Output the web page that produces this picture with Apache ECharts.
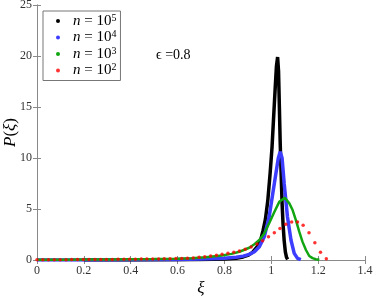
<!DOCTYPE html>
<html>
<head>
<meta charset="utf-8">
<script src="https://cdn.jsdelivr.net/npm/echarts@6/dist/echarts.min.js"></script>
<style>html,body{margin:0;padding:0;background:#fff}#c{width:374px;height:298px}</style>
</head>
<body>
<div id="c"></div>
<script>
// ---- data ----
const seriesNames = ['n1e5', 'n1e4', 'n1e3', 'n1e2'];
const exponents = ['5', '4', '3', '2'];
const xTickLabels = ['0', '0.2', '0.4', '0.6', '0.8', '1', '1.2', '1.4'];
const yTickLabels = ['0', '5', '10', '15', '20', '25'];

const xiBlack = [0.20, 0.40, 0.60, 0.70, 0.80, 0.85, 0.88, 0.90, 0.92, 0.94, 0.955, 0.965, 0.975, 0.985, 0.995, 1.003, 1.010, 1.017, 1.022, 1.027, 1.031, 1.035, 1.038, 1.042, 1.046, 1.050, 1.055, 1.060, 1.065, 1.070];
const pBlack  = [0.00, 0.01, 0.03, 0.05, 0.10, 0.18, 0.30, 0.45, 0.75, 1.30, 2.00, 2.90, 4.00, 5.80, 8.50, 11.0, 14.0, 17.0, 19.0, 19.9, 18.5, 14.5, 11.5, 8.5, 5.6, 3.6, 1.9, 0.8, 0.25, 0.05];

const xiBlue = [0.00, 0.20, 0.40, 0.60, 0.70, 0.80, 0.85, 0.88, 0.906, 0.928, 0.949, 0.970, 0.991, 1.013, 1.030, 1.038, 1.046, 1.055, 1.069, 1.084, 1.098, 1.112, 1.126];
const pBlue  = [0.00, 0.01, 0.02, 0.05, 0.09, 0.17, 0.27, 0.38, 0.55, 0.81, 1.30, 2.28, 4.25, 7.50, 10.0, 10.6, 10.0, 7.50, 4.25, 1.96, 0.65, 0.16, 0.03];

const xiGreen = [0.00, 0.10, 0.20, 0.30, 0.40, 0.50, 0.60, 0.66, 0.72, 0.79, 0.83, 0.864, 0.906, 0.928, 0.949, 0.970, 0.991, 1.013, 1.034, 1.058, 1.077, 1.091, 1.105, 1.119, 1.133, 1.148, 1.162, 1.176, 1.190, 1.205];
const pGreen  = [0.02, 0.03, 0.04, 0.05, 0.07, 0.09, 0.13, 0.18, 0.27, 0.45, 0.60, 0.81, 1.20, 1.54, 1.96, 2.60, 3.60, 4.70, 5.70, 6.10, 5.55, 4.90, 3.90, 2.80, 1.80, 0.98, 0.39, 0.18, 0.08, 0.02];

const xiRed = [0.000, 0.025, 0.049, 0.074, 0.099, 0.124, 0.148, 0.173, 0.198, 0.222, 0.247, 0.272, 0.296, 0.321, 0.346, 0.371, 0.395, 0.420, 0.445, 0.469, 0.494, 0.519, 0.543, 0.568, 0.593, 0.618, 0.642, 0.667, 0.692, 0.716, 0.741, 0.766, 0.790, 0.815, 0.840, 0.864, 0.889, 0.914, 0.939, 0.963, 0.988, 1.013, 1.037, 1.062, 1.087, 1.112, 1.136, 1.161, 1.186, 1.210, 1.235];
const pRed  = [0.02, 0.02, 0.03, 0.03, 0.03, 0.03, 0.04, 0.04, 0.04, 0.05, 0.05, 0.05, 0.06, 0.06, 0.07, 0.07, 0.08, 0.08, 0.09, 0.09, 0.10, 0.11, 0.12, 0.13, 0.14, 0.15, 0.17, 0.20, 0.26, 0.33, 0.39, 0.46, 0.56, 0.65, 0.75, 0.88, 1.05, 1.27, 1.57, 1.89, 2.28, 2.68, 3.10, 3.50, 3.73, 3.73, 3.40, 2.68, 1.70, 0.75, 0.13];

const epsilonText = 'ϵ =0.8';

// ---- chart ----
const pairs = (xs, ys) => xs.map((x, i) => [x, ys[i]]);
const font = 'Liberation Serif';
const axisGray = '#8a8a8a';
const chart = echarts.init(document.getElementById('c'), null, {renderer: 'canvas'});

const lineSeries = (name, xs, ys, color, w) => ({
  name, type: 'line', data: pairs(xs, ys), showSymbol: false, symbol: 'circle',
  itemStyle: {color}, lineStyle: {color, width: w}, animation: false, z: 2
});

chart.setOption({
  animation: false,
  grid: {left: 37, right: 9, top: 5, bottom: 38, containLabel: false, outerBoundsMode: 'none'},
  xAxis: [{
    type: 'value', min: 0, max: 1.4, interval: 0.2, position: 'bottom',
    name: 'ξ', nameLocation: 'middle', nameGap: 20, nameMoveOverlap: false,
    nameTextStyle: {fontFamily: font, fontSize: 17, fontStyle: 'italic', color: '#000'},
    axisLine: {show: true, lineStyle: {color: axisGray, width: 1}},
    axisTick: {show: true, inside: true, length: 4, lineStyle: {color: axisGray}},
    axisLabel: {fontFamily: font, fontSize: 12, color: '#333', margin: 5,
      formatter: (v) => xTickLabels[Math.round(v / 0.2)]},
    splitLine: {show: false}
  }, {
    type: 'value', min: 0, max: 1.4, interval: 0.2, position: 'top',
    axisLine: {show: true, lineStyle: {color: axisGray, width: 1}},
    axisTick: {show: true, inside: true, length: 4, lineStyle: {color: axisGray}},
    axisLabel: {show: false}, splitLine: {show: false}
  }],
  yAxis: [{
    type: 'value', min: 0, max: 25, interval: 5, position: 'left',
    name: '{i|P}({i|ξ})', nameLocation: 'middle', nameGap: 18, nameRotate: 90, nameMoveOverlap: false,
    nameTextStyle: {fontFamily: font, fontSize: 17, color: '#000',
      rich: {i: {fontFamily: font, fontSize: 17, fontStyle: 'italic', color: '#000'}}},
    axisLine: {show: true, lineStyle: {color: axisGray, width: 1}},
    axisTick: {show: true, inside: true, length: 4, lineStyle: {color: axisGray}},
    axisLabel: {fontFamily: font, fontSize: 12, color: '#333', margin: 5,
      formatter: (v) => yTickLabels[Math.round(v / 5)]},
    splitLine: {show: false}
  }, {
    type: 'value', min: 0, max: 25, interval: 5, position: 'right',
    axisLine: {show: true, lineStyle: {color: axisGray, width: 1}},
    axisTick: {show: true, inside: true, length: 4, lineStyle: {color: axisGray}},
    axisLabel: {show: false}, splitLine: {show: false}
  }],
  legend: {
    orient: 'vertical', left: 43, top: 11,
    data: seriesNames.map(n => ({name: n, icon: 'circle'})),
    itemWidth: 4, itemHeight: 4, itemGap: 0.5,
    padding: [2, 4, 2, 13],
    backgroundColor: '#fff', borderColor: '#777', borderWidth: 1,
    formatter: (name) => '{g|}{i|n} = 10{s|' + exponents[seriesNames.indexOf(name)] + '}',
    textStyle: {
      fontFamily: font, fontSize: 15, color: '#000', lineHeight: 16,
      rich: {
        g: {width: 8},
        i: {fontFamily: font, fontSize: 15, fontStyle: 'italic', color: '#000', lineHeight: 16},
        s: {fontFamily: font, fontSize: 10, color: '#000', lineHeight: 10, padding: [0, 0, 6, 0]}
      }
    }
  },
  graphic: [{
    type: 'text', left: 156, top: 48,
    style: {text: epsilonText, fontFamily: font, fontSize: 14, fill: '#000'}
  }],
  series: [
    lineSeries('n1e5', xiBlack, pBlack, '#000000', 3.5),
    lineSeries('n1e4', xiBlue, pBlue, '#3d3dff', 3.5),
    lineSeries('n1e3', xiGreen, pGreen, '#11a611', 2.5),
    {
      name: 'n1e2', type: 'scatter', data: pairs(xiRed, pRed), symbol: 'circle', symbolSize: 3.5,
      itemStyle: {color: '#ff0000'}, z: 3
    }
  ]
});
</script>
</body>
</html>
